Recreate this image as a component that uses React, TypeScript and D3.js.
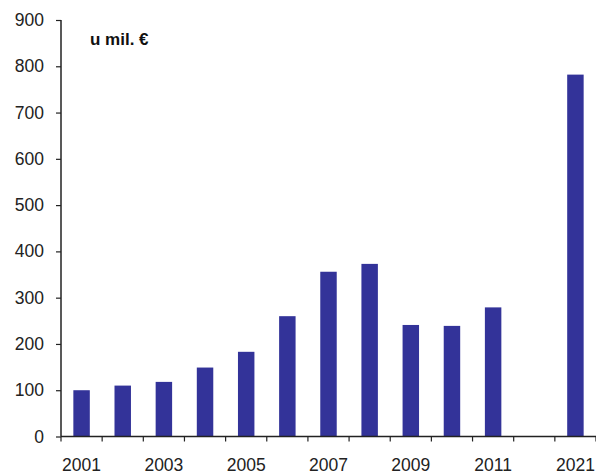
import React, { useEffect, useRef } from 'react';
import * as d3 from 'd3';

const categories = ['2001', '2002', '2003', '2004', '2005', '2006', '2007', '2008', '2009', '2010', '2011', '', '2021'];
const values = [100, 110, 118, 149, 183, 260, 356, 373, 241, 239, 279, null, 782];
const xTickLabels = ['2001', '2003', '2005', '2007', '2009', '2011', '2021'];
const yTicks = [0, 100, 200, 300, 400, 500, 600, 700, 800, 900];
const unitLabel = 'u mil. €';

const App: React.FC = () => {
  const svgRef = useRef<SVGSVGElement>(null);

  useEffect(() => {
    const W = 596;
    const H = 474;
    const margin = { top: 20, right: 0, bottom: 37.5, left: 61 };
    const width = W - margin.left - margin.right;
    const height = H - margin.top - margin.bottom;
    const font = 'Liberation Sans, Arial, sans-serif';

    const root = d3.select(svgRef.current);
    root.selectAll('*').remove();
    root.attr('width', W).attr('height', H);

    const svg = root.append('g').attr('transform', `translate(${margin.left},${margin.top})`);

    const x = d3.scaleBand<number>()
      .domain(categories.map((_, i) => i))
      .range([0, width])
      .paddingInner(0)
      .paddingOuter(0);

    const y = d3.scaleLinear().domain([0, 900]).range([height, 0]);

    const barW = x.bandwidth() * 0.4;

    svg.selectAll('.bar')
      .data(values.map((v, i) => ({ v, i })).filter(d => d.v !== null))
      .enter()
      .append('rect')
      .attr('class', 'bar')
      .attr('x', d => (x(d.i) || 0) + (x.bandwidth() - barW) / 2)
      .attr('y', d => y(d.v as number))
      .attr('width', barW)
      .attr('height', d => height - y(d.v as number))
      .attr('fill', '#333399');

    // y axis
    const yAxis = svg.append('g')
      .call(d3.axisLeft(y).tickValues(yTicks).tickSize(5).tickPadding(12).tickFormat(d3.format('d')));
    yAxis.select('.domain').attr('stroke', '#222').attr('stroke-width', 1.5).attr('d', `M0,0V${height}`);
    yAxis.selectAll('.tick line').attr('stroke', '#222').attr('stroke-width', 1.2);
    yAxis.selectAll('text')
      .attr('font-family', font)
      .attr('font-size', 17.5)
      .attr('fill', '#222');

    // x axis (ticks at category boundaries)
    const xg = svg.append('g').attr('transform', `translate(0,${height})`);
    xg.append('line')
      .attr('x1', 0).attr('x2', width)
      .attr('y1', 0).attr('y2', 0)
      .attr('stroke', '#222').attr('stroke-width', 1.5);
    const boundaries = categories.map((_, i) => x(i) || 0).concat([width]);
    xg.selectAll('.xtick')
      .data(boundaries)
      .enter()
      .append('line')
      .attr('class', 'xtick')
      .attr('x1', d => d).attr('x2', d => d)
      .attr('y1', 0).attr('y2', 5)
      .attr('stroke', '#222').attr('stroke-width', 1.2);
    xg.selectAll('.xlabel')
      .data(xTickLabels)
      .enter()
      .append('text')
      .attr('class', 'xlabel')
      .attr('x', d => (x(categories.indexOf(d)) || 0) + x.bandwidth() / 2)
      .attr('y', 34.5)
      .attr('text-anchor', 'middle')
      .attr('font-family', font)
      .attr('font-size', 17.5)
      .attr('fill', '#222')
      .text(d => d);

    svg.append('text')
      .attr('x', 29)
      .attr('y', 25)
      .attr('font-family', font)
      .attr('font-size', 17)
      .attr('font-weight', 'bold')
      .attr('fill', '#111')
      .text(unitLabel);
  }, []);

  return <svg ref={svgRef} style={{ position: 'absolute', left: 0, top: 0, background: '#fff' }}></svg>;
};

export default App;
